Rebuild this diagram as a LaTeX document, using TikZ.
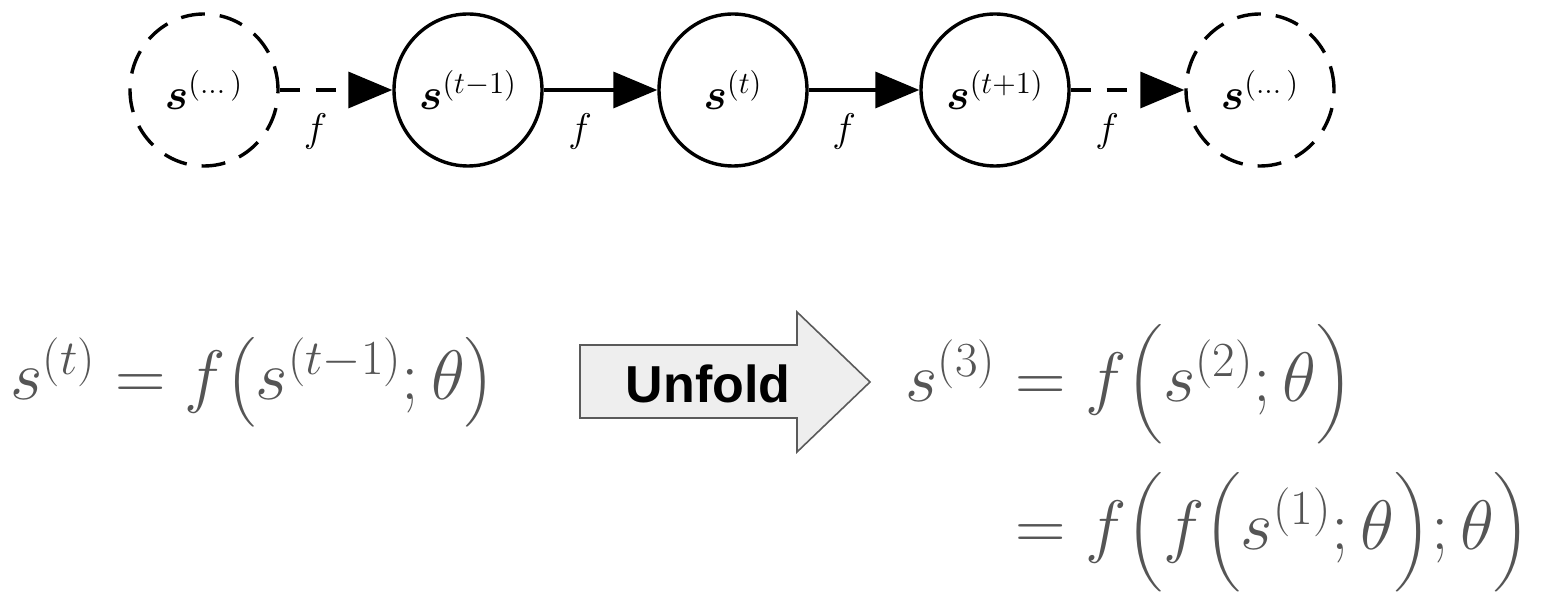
\RequirePackage{fix-cm}
\documentclass[tikz,border=0pt]{standalone}
\usepackage{amsmath}
\usepackage{fontspec}
\newfontfamily\unfoldfont{Liberation Sans}
\usetikzlibrary{arrows.meta,shapes.geometric}
\definecolor{eqgray}{RGB}{85,85,85}
\definecolor{arrowfill}{RGB}{238,238,238}
\definecolor{arrowedge}{RGB}{90,90,90}
\begin{document}
\begin{tikzpicture}[x=0.5pt,y=-0.5pt,
 state/.style={ellipse,draw,line width=1.7pt,minimum width=74pt,minimum height=76pt,inner sep=0pt,font=\fontsize{22}{26}\selectfont},
 ghost/.style={state,dash pattern=on 12pt off 7.5pt},
 trans/.style={line width=1.7pt,-{Triangle[length=22pt,width=18pt]}},
 transd/.style={trans,dash pattern=on 10pt off 8pt},
 flab/.style={font=\fontsize{20}{24}\selectfont,yshift=-21pt,inner sep=0pt},
 eqtext/.style={inner sep=0pt,text=eqgray,font=\fontsize{35}{42}\selectfont},
 unfoldarrow/.style={fill=arrowfill,draw=arrowedge,line width=0.8pt},
 unfoldtext/.style={font=\unfoldfont\bfseries\fontsize{26}{30}\selectfont}
]
\useasboundingbox (0,0) rectangle (1558,608);
% graph
\node[ghost] (a) at (204,90) {$\boldsymbol{s}^{(\dots)}$};
\node[state] (b) at (468,90) {$\boldsymbol{s}^{(t-1)}$};
\node[state] (c) at (733,90) {$\boldsymbol{s}^{(t)}$};
\node[state] (d) at (995,90) {$\boldsymbol{s}^{(t+1)}$};
\node[ghost] (e) at (1260,90) {$\boldsymbol{s}^{(\dots)}$};
\draw[transd] (a) -- node[pos=0.32,flab] (f1) {$f$} (b);
\draw[trans] (b) -- node[pos=0.32,flab] (f2) {$f$} (c);
\draw[trans] (c) -- node[pos=0.32,flab] (f3) {$f$} (d);
\draw[transd] (d) -- node[pos=0.32,flab] (f4) {$f$} (e);
% equations
\node[eqtext,anchor=base west] (eq) at (10,400) {$s^{(t)} = f\big(s^{(t-1)};\theta\big)$};
\draw[unfoldarrow] (580,345) -- (797,345) -- (797,312) -- (870,382) -- (797,452) -- (797,418) -- (580,418) -- cycle;
\node[unfoldtext] (unfold) at (708,384) {Unfold};
\node[eqtext,anchor=base west] (eqa) at (905,402) {$s^{(3)} = f\Big(s^{(2)};\theta\Big)$};
\node[eqtext,anchor=base west] (eqb) at (905,550) {$\phantom{s^{(3)}} = f\Big(f\Big(s^{(1)};\theta\Big);\theta\Big)$};
\end{tikzpicture}
\end{document}
